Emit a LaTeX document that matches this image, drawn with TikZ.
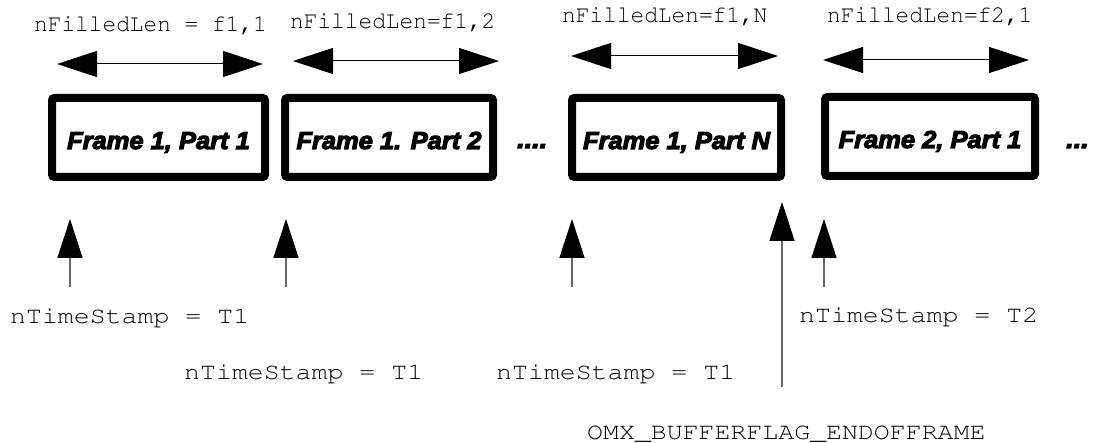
\documentclass[tikz,border=0pt]{standalone}
\usepackage[T1]{fontenc}
\usepackage{fontspec}
\usepackage{graphicx}
\usetikzlibrary{arrows.meta}
\newfontfamily\boxfont[FakeBold=4.5,FakeStretch=1.04]{Liberation Sans Bold Italic}
\newcommand\courierfont{\fontencoding{T1}\fontfamily{pcr}\fontseries{m}\fontshape{n}\selectfont}
\newcommand\topstr[1]{\scalebox{0.95}[1]{#1}}
\newcommand\botstr[1]{\scalebox{1.13}[1]{#1}}
\definecolor{linegray}{RGB}{100,100,100}
\tikzset{
  framebox/.style={draw=black, line width=8pt, rounded corners=2.5pt, inner sep=0pt,
    minimum height=79pt, text height=23pt, text depth=0pt,
    font=\boxfont\fontsize{24.5}{28}\selectfont},
  dotstext/.style={inner sep=0pt, anchor=base west, font=\boxfont\fontsize{26}{30}\selectfont},
  toplabel/.style={inner sep=0pt, anchor=base west, font=\courierfont\fontsize{24}{28}\selectfont},
  botlabel/.style={inner sep=0pt, anchor=base west, font=\courierfont\fontsize{23.5}{28}\selectfont},
  lenarrow/.style={line width=1pt, draw=black,
    {Triangle[length=40pt,width=26pt]}-{Triangle[length=40pt,width=26pt]}},
  tsarrow/.style={line width=1.5pt, draw=linegray,
    -{Triangle[length=39pt,width=25pt,color=black,fill=black]}}
}
\begin{document}
\begin{tikzpicture}[x=1pt,y=-1pt]
\useasboundingbox (0,0) rectangle (1096,443);

% frame boxes
\node[framebox, minimum width=213pt] (b1) at (158.5,137.5) {Frame 1, Part 1};
\node[framebox, minimum width=208pt] (b2) at (389,137.5) {Frame 1. Part 2};
\node[framebox, minimum width=209pt] (b3) at (676.5,137.5) {Frame 1, Part N};
\node[framebox, minimum width=210pt] (b4) at (930,136.5) {Frame 2, Part 1};
\node[dotstext] (d1) at (517,148) {....};
\node[dotstext] (d2) at (1066,148) {...};

% length labels
\node[toplabel] (l1) at (34,32) {\topstr{nFilledLen = f1,1}};
\node[toplabel] (l2) at (290,29) {\topstr{nFilledLen=f1,2}};
\node[toplabel] (l3) at (562,23) {\topstr{nFilledLen=f1,N}};
\node[toplabel] (l4) at (827,23) {\topstr{nFilledLen=f2,1}};

% length arrows
\coordinate (a1l) at (57,64);  \coordinate (a1r) at (263,64);
\coordinate (a2l) at (293,61); \coordinate (a2r) at (499,61);
\coordinate (a3l) at (571,56); \coordinate (a3r) at (778,56);
\coordinate (a4l) at (823,60); \coordinate (a4r) at (1029,60);
\draw[lenarrow] (a1l) -- (a1r);
\draw[lenarrow] (a2l) -- (a2r);
\draw[lenarrow] (a3l) -- (a3r);
\draw[lenarrow] (a4l) -- (a4r);

% timestamp arrows
\coordinate (t1s) at (70,287);  \coordinate (t1e) at (70,219);
\coordinate (t2s) at (286,287); \coordinate (t2e) at (286,219);
\coordinate (t3s) at (572,287); \coordinate (t3e) at (572,219);
\coordinate (t4s) at (824,287); \coordinate (t4e) at (824,219);
\coordinate (efs) at (782,387); \coordinate (efe) at (782,202);
\draw[tsarrow] (t1s) -- (t1e);
\draw[tsarrow] (t2s) -- (t2e);
\draw[tsarrow] (t3s) -- (t3e);
\draw[tsarrow] (t4s) -- (t4e);
\draw[tsarrow] (efs) -- (efe);

% timestamp labels
\node[botlabel] (n1) at (10,324) {\botstr{nTimeStamp = T1}};
\node[botlabel] (n2) at (184,380) {\botstr{nTimeStamp = T1}};
\node[botlabel] (n3) at (496,380) {\botstr{nTimeStamp = T1}};
\node[botlabel] (n4) at (799,323) {\botstr{nTimeStamp = T2}};
\node[botlabel] (eof) at (587,440) {\botstr{OMX\_BUFFERFLAG\_ENDOFFRAME}};
\end{tikzpicture}
\end{document}
